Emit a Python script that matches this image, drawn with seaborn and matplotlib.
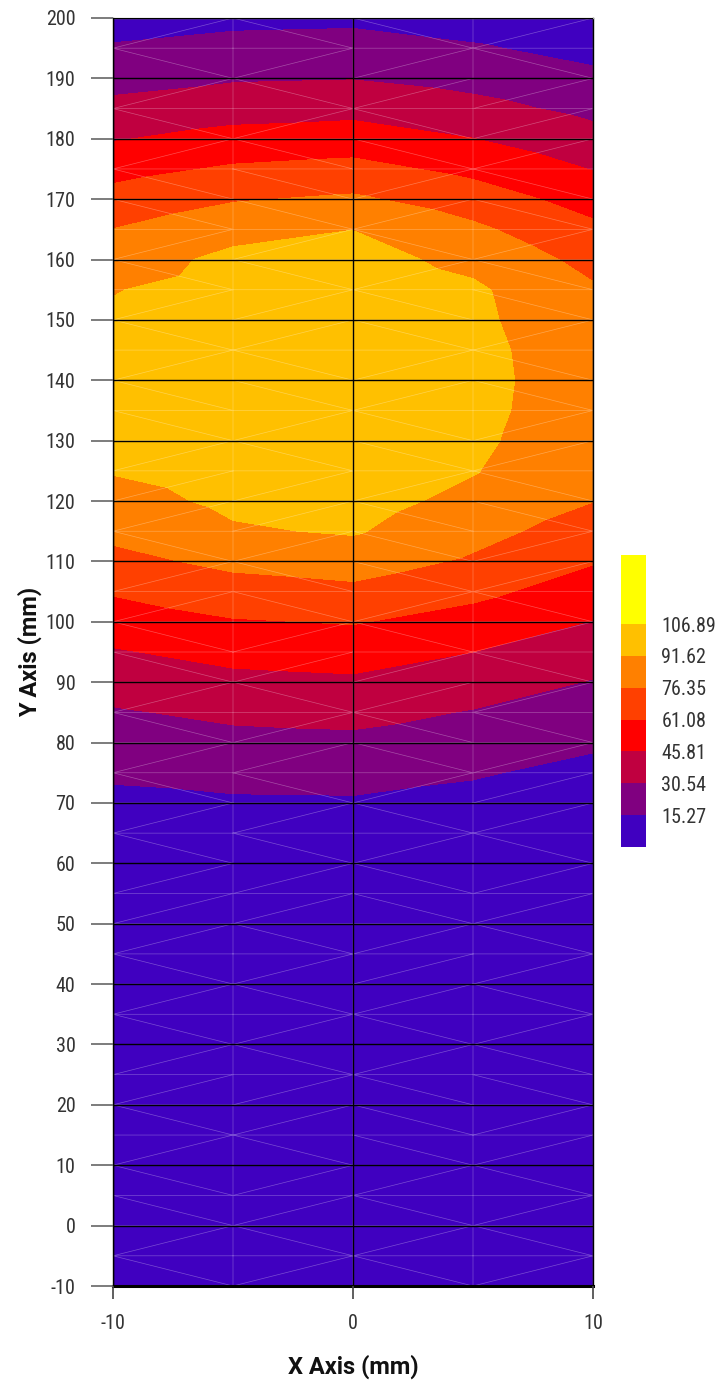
import numpy as np
import matplotlib
matplotlib.use("Agg")
import matplotlib.pyplot as plt
import matplotlib.tri as mtri
import seaborn as sns

# ---- data ----
x_cols = [-10, -5, 0, 5, 10]
y_rows = list(range(-10, 205, 5))

# values along y (from -10 up to 200) for each column
col_m10 = [0.2, 0.3, 0.4, 0.5, 0.7, 0.9, 1.2, 1.5, 2.0, 2.6, 3.3, 4.2, 5.3, 6.6, 8.1,
           9.9, 12.0, 17.3, 23.2, 29.1, 36.6, 44.5, 53.4, 62.4, 72.1, 80.0, 86.4, 92.5,
           95.0, 96.5, 97.0, 96.0, 94.0, 90.9, 83.7, 76.5, 66.5, 55.9, 44.8, 34.5, 25.3,
           16.8, 8.3]
col_m5 = [0.2, 0.3, 0.4, 0.6, 0.8, 1.0, 1.3, 1.7, 2.2, 2.8, 3.6, 4.6, 5.8, 7.3, 9.1,
          11.1, 13.3, 19.8, 26.4, 33.5, 41.7, 50.5, 59.9, 70.0, 79.8, 90.0, 94.5, 98.0,
          100.5, 102.0, 102.5, 102.0, 100.5, 98.0, 95.5, 86.3, 75.1, 63.0, 50.9, 39.5,
          29.0, 20.2, 11.4]
col_0 = [0.2, 0.3, 0.4, 0.6, 0.8, 1.0, 1.4, 1.8, 2.3, 3.0, 3.8, 4.9, 6.1, 7.7, 9.5,
         11.4, 13.6, 20.4, 27.3, 34.9, 43.3, 52.4, 62.0, 72.9, 83.2, 93.0, 97.5, 101.0,
         103.5, 105.0, 105.5, 105.0, 103.5, 101.0, 97.0, 91.4, 78.6, 65.7, 53.1, 41.1,
         30.0, 21.1, 12.2]
col_5 = [0.2, 0.3, 0.4, 0.5, 0.6, 0.8, 1.0, 1.3, 1.7, 2.2, 2.8, 3.6, 4.5, 5.5, 6.8,
         8.7, 11.0, 16.6, 23.2, 29.7, 37.7, 45.8, 55.2, 64.7, 74.3, 81.2, 87.3, 92.5,
         95.0, 96.5, 97.0, 96.5, 95.0, 94.0, 87.5, 79.2, 68.6, 57.1, 46.0, 35.1, 25.5,
         16.8, 8.2]
col_10 = [0.1, 0.2, 0.3, 0.4, 0.5, 0.6, 0.8, 1.0, 1.3, 1.6, 2.0, 2.6, 3.2, 4.0, 5.0,
          6.5, 8.5, 11.2, 17.4, 23.5, 29.7, 37.4, 45.3, 53.7, 62.0, 69.3, 76.6, 78.5,
          80.0, 81.0, 81.5, 81.0, 79.5, 78.0, 71.9, 64.2, 55.1, 45.2, 35.6, 26.7, 18.6,
          10.6, 4.0]

levels = [0, 15.27, 30.54, 45.81, 61.08, 76.35, 91.62, 106.89, 140]
level_labels = ["15.27", "30.54", "45.81", "61.08", "76.35", "91.62", "106.89"]
band_colors = ["#4000c0", "#800080", "#c00040", "#ff0000",
               "#ff4000", "#ff8000", "#ffc000", "#ffff00"]

x_ticks = [-10, 0, 10]
y_ticks = list(range(-10, 210, 10))

# ---- build point table ----
columns = [col_m10, col_m5, col_0, col_5, col_10]
px, py, pz = [], [], []
for xc, col in zip(x_cols, columns):
    for yv, zv in zip(y_rows, col):
        px.append(xc)
        py.append(yv)
        pz.append(zv)
px = np.array(px, float)
py = np.array(py, float)
pz = np.array(pz, float)

# ---- style ----
sns.set_theme(style="white")
plt.rcParams["font.family"] = ["Roboto Condensed", "Liberation Sans Narrow", "Roboto", "DejaVu Sans"]
plt.rcParams["axes.unicode_minus"] = False

fig = plt.figure(figsize=(7.19, 13.86), dpi=100)
ax = fig.add_axes([113 / 719, 1 - 1286 / 1386, 480 / 719, 1268 / 1386])

palette = sns.color_palette(band_colors)
tri = mtri.Triangulation(px, py)
cs = ax.tricontourf(tri, pz, levels=levels, colors=palette)
ax.triplot(tri, color="white", lw=0.5, alpha=0.3)

ax.set_xlim(-10, 10)
ax.set_ylim(-10, 200)
ax.set_xticks(x_ticks)
ax.set_yticks(y_ticks)
ax.grid(True, color="black", lw=1.0)
ax.set_axisbelow(False)

for side in ["top", "right", "left", "bottom"]:
    ax.spines[side].set_color("black")
    ax.spines[side].set_linewidth(1.0)
ax.spines["bottom"].set_linewidth(2.2)
ax.spines["top"].set_color("#aaaaaa")

ax.tick_params(axis="y", which="major", left=True, length=16, width=1.2,
               color="#666666", labelsize=14.5, labelcolor="#333333", pad=11)
ax.tick_params(axis="x", which="major", bottom=True, length=9, width=1.2,
               color="#444444", labelsize=14.5, labelcolor="#333333", pad=11)

ax.set_xlabel("X Axis (mm)", fontsize=17, fontweight="bold", color="#111111",
              family=["Roboto", "DejaVu Sans"])
ax.set_ylabel("Y Axis (mm)", fontsize=17, fontweight="bold", color="#111111",
              family=["Roboto", "DejaVu Sans"])
ax.yaxis.set_label_coords((42 - 113) / 480, 0.5)
ax.xaxis.set_label_coords(0.5, (1286 - 1355) / 1268)

cax = fig.add_axes([621 / 719, 1 - 847 / 1386, 25 / 719, 292 / 1386])
cb = fig.colorbar(cs, cax=cax, ticks=levels[1:-1], spacing="proportional")
cb.set_ticklabels(level_labels)
cb.outline.set_visible(False)
cax.tick_params(length=0, labelsize=14.5, labelcolor="#333333", pad=11)

fig.savefig("out.png", dpi=100)
